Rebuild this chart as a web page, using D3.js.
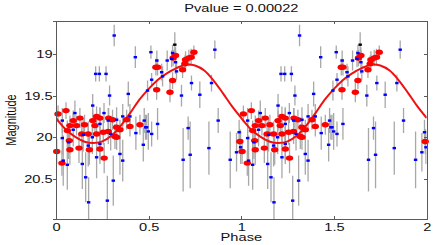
<!DOCTYPE html>
<html>
<head>
<meta charset="utf-8">
<script src="https://cdn.jsdelivr.net/npm/d3@7/dist/d3.min.js"></script>
<style>
  body { margin: 0; background: #fff; }
  text { font-family: "Liberation Sans", Arial, Helvetica, sans-serif; fill: #111; }
  .axis path, .axis line { stroke: #5a5a5a; shape-rendering: crispEdges; }
</style>
</head>
<body>
<svg id="chart" width="436" height="245"></svg>
<script>
// phase-folded light curve, one period (it is drawn twice, phase and phase+1)

// blue points: phase, magnitude, error
var blueP = [0.314, 0.428, 0.214, 0.234, 0.270, 0.289, 0.390, 0.198, 0.102, 0.259,
             0.512, 0.544, 0.570, 0.575, 0.516, 0.494, 0.600, 0.624, 0.629, 0.645,
             0.650, 0.731, 0.677, 0.776, 0.839, 0.857, 0.548, 0.483, 0.498, 0.516,
             0.713, 0.686, 0.724, 0.825, 0.875, 0.940, 0.974, 0.988, 0.996, 0.034,
             0.034, 0.039, 0.061, 0.093, 0.068, 0.142, 0.160, 0.176, 0.147, 0.196,
             0.174, 0.219, 0.237, 0.237, 0.277, 0.309, 0.295, 0.345, 0.360, 0.327,
             0.282, 0.399, 0.431, 0.489, 0.476, 0.360, 0.471];
var blueM = [18.78, 19.04, 19.24, 19.24, 19.24, 19.50, 19.48, 19.62, 19.71, 19.71,
             18.98, 19.08, 19.22, 19.27, 19.31, 19.44, 19.08, 19.06, 18.99, 19.10,
             19.21, 19.35, 19.50, 19.49, 19.35, 18.95, 19.84, 19.88, 19.93, 19.96,
             19.89, 20.27, 20.21, 20.13, 19.80, 20.27, 20.18, 19.94, 20.12, 19.80,
             20.01, 20.28, 20.33, 19.91, 20.06, 20.32, 20.48, 20.78, 19.97, 20.00,
             20.10, 20.24, 20.08, 19.84, 20.76, 20.52, 19.96, 20.20, 20.28, 19.79,
             19.80, 19.75, 19.95, 19.88, 19.80, 19.75, 20.09];
var blueE = [0.13, 0.13, 0.09, 0.09, 0.09, 0.12, 0.15, 0.14, 0.15, 0.12,
             0.08, 0.12, 0.10, 0.12, 0.08, 0.12, 0.12, 0.10, 0.10, 0.14,
             0.10, 0.09, 0.13, 0.16, 0.10, 0.11, 0.19, 0.15, 0.22, 0.15,
             0.14, 0.38, 0.40, 0.32, 0.15, 0.34, 0.23, 0.15, 0.20, 0.15,
             0.20, 0.30, 0.30, 0.20, 0.20, 0.30, 0.30, 0.30, 0.20, 0.20,
             0.25, 0.25, 0.20, 0.20, 0.30, 0.30, 0.20, 0.25, 0.25, 0.15,
             0.15, 0.15, 0.20, 0.15, 0.15, 0.15, 0.20];

// red points
var redP = [0.011, 0.004, 0.032, 0.054, 0.075, 0.111, 0.154, 0.198, 0.237, 0.284,
            0.305, 0.327, 0.345, 0.381, 0.399, 0.453, 0.255, 0.219, 0.174, 0.139,
            0.072, 0.075, 0.124, 0.180, 0.237, 0.260, 0.282, 0.318, 0.327, 0.210,
            0.219, 0.061, 0.093, 0.129, 0.992,
            0.539, 0.548, 0.543, 0.615, 0.629, 0.632, 0.645, 0.683, 0.695, 0.699,
            0.717, 0.729, 0.744];
var redM = [19.72, 20.17, 20.31, 19.68, 19.86, 19.86, 19.85, 19.80, 19.77, 19.77,
            19.79, 19.88, 19.91, 19.79, 19.87, 19.85, 19.94, 19.96, 19.96, 19.96,
            20.04, 20.15, 20.13, 20.15, 20.14, 20.25, 19.93, 19.99, 20.00, 19.86,
            19.75, 19.92, 19.80, 19.77, 20.05,
            19.16, 19.16, 19.43, 19.46, 19.32, 19.05, 19.02, 19.19, 19.12, 19.07,
            19.05, 19.04, 18.98];
var redE = [0.10, 0.15, 0.15, 0.10, 0.12, 0.12, 0.12, 0.12, 0.12, 0.12,
            0.12, 0.12, 0.12, 0.12, 0.12, 0.12, 0.15, 0.15, 0.15, 0.15,
            0.15, 0.18, 0.18, 0.18, 0.18, 0.18, 0.15, 0.15, 0.15, 0.12,
            0.12, 0.12, 0.12, 0.12, 0.15,
            0.10, 0.10, 0.12, 0.12, 0.10, 0.10, 0.10, 0.10, 0.10, 0.10,
            0.10, 0.10, 0.08];

// the single black point
var blackP = [0.641];
var blackM = [18.89];
var blackE = [0.15];

// fitted curve, every 0.05 in phase
var curveP = [0, 0.05, 0.10, 0.15, 0.20, 0.25, 0.30, 0.35, 0.40, 0.45, 0.50,
              0.55, 0.60, 0.65, 0.70, 0.75, 0.80, 0.85, 0.90, 0.95, 1.0];
var curveM = [19.77, 19.90, 19.99, 20.05, 20.07, 20.05, 19.98, 19.86, 19.71, 19.55, 19.42,
              19.31, 19.23, 19.17, 19.13, 19.14, 19.20, 19.32, 19.47, 19.63, 19.77];

var xTicks = [0, 0.5, 1, 1.5, 2];
var yTicks = [19, 19.5, 20, 20.5];
var titleText = "Pvalue = 0.00022";

// the original picture is stretched sideways, so text gets stretched too
var sx = 1.33;

var svg = d3.select("#chart"),
    mLeft = 56, mRight = 426.7, mTop = 20.5, mBottom = 219;

var x = d3.scaleLinear().domain([0, 2]).range([mLeft, mRight]);
var y = d3.scaleLinear().domain([18.6, 20.98]).range([mTop, mBottom]);

// fold each series into two periods
function twice(P, M, E) {
  var out = [];
  [0, 1].forEach(function(k) {
    P.forEach(function(p, i) { out.push({p: p + k, m: M[i], e: E[i]}); });
  });
  return out;
}
var blue = twice(blueP, blueM, blueE),
    red = twice(redP, redM, redE),
    black = twice(blackP, blackM, blackE);

svg.append("clipPath").attr("id", "clip")
  .append("rect").attr("x", mLeft).attr("y", mTop)
  .attr("width", mRight - mLeft).attr("height", mBottom - mTop);

var plot = svg.append("g").attr("clip-path", "url(#clip)");

// error bars
plot.selectAll(".err")
  .data(blue.concat(red, black))
  .enter().append("line")
    .attr("class", "err")
    .attr("x1", function(d) { return x(d.p); })
    .attr("x2", function(d) { return x(d.p); })
    .attr("y1", function(d) { return y(d.m - d.e); })
    .attr("y2", function(d) { return y(d.m + d.e); })
    .attr("stroke", "#a8a8a8")
    .attr("stroke-width", 1.3);

// fitted curve over two periods
var curve = [];
[0, 1].forEach(function(k) {
  curveP.forEach(function(p, i) {
    if (k == 1 && i == 0) return;
    curve.push({p: p + k, m: curveM[i]});
  });
});

plot.append("path")
  .datum(curve)
  .attr("fill", "none")
  .attr("stroke", "#f01010")
  .attr("stroke-width", 2)
  .attr("d", d3.line()
    .x(function(d) { return x(d.p); })
    .y(function(d) { return y(d.m); })
    .curve(d3.curveCatmullRom));

// markers
svg.selectAll(".red")
  .data(red)
  .enter().append("ellipse")
    .attr("class", "red")
    .attr("cx", function(d) { return x(d.p); })
    .attr("cy", function(d) { return y(d.m); })
    .attr("rx", 3.7)
    .attr("ry", 2.7)
    .attr("fill", "#ff0000");

svg.selectAll(".blue")
  .data(blue)
  .enter().append("rect")
    .attr("class", "blue")
    .attr("x", function(d) { return x(d.p) - 1.7; })
    .attr("y", function(d) { return y(d.m) - 1.2; })
    .attr("width", 3.4)
    .attr("height", 2.4)
    .attr("fill", "#0000ff");

svg.selectAll(".black")
  .data(black)
  .enter().append("rect")
    .attr("class", "black")
    .attr("x", function(d) { return x(d.p) - 1.7; })
    .attr("y", function(d) { return y(d.m) - 1.2; })
    .attr("width", 3.4)
    .attr("height", 2.4)
    .attr("fill", "#000");

// axes: box with ticks, labels only on left and bottom
var gx = svg.append("g").attr("class", "axis")
  .attr("transform", "translate(0," + mBottom + ")")
  .call(d3.axisBottom(x).tickValues(xTicks).tickSize(-3).tickPadding(4.3)
    .tickFormat(function(d) { return d; }));
gx.selectAll("text").attr("font-size", 11).attr("transform", "scale(" + sx + ",1)");

svg.append("g").attr("class", "axis")
  .attr("transform", "translate(0," + mTop + ")")
  .call(d3.axisTop(x).tickValues(xTicks).tickSize(-3).tickFormat(""));

var gy = svg.append("g").attr("class", "axis")
  .attr("transform", "translate(" + mLeft + ",0)")
  .call(d3.axisLeft(y).tickValues(yTicks).tickSize(3)
    .tickFormat(function(d) { return d; }));
gy.selectAll("text")
  .attr("font-size", 11)
  .attr("x", -3.4 / sx)
  .attr("transform", "scale(" + sx + ",1)");

svg.append("g").attr("class", "axis")
  .attr("transform", "translate(" + mRight + ",0)")
  .call(d3.axisRight(y).tickValues(yTicks).tickSize(-3).tickFormat(""));

svg.selectAll(".axis .domain").attr("stroke", "#5a5a5a");

// title and axis labels
svg.append("text")
  .attr("transform", "translate(" + (mLeft + mRight) / 2 + ",11.7) scale(" + sx + ",1)")
  .attr("text-anchor", "middle")
  .attr("font-size", 11)
  .text(titleText);

svg.append("text")
  .attr("transform", "translate(" + (mLeft + mRight) / 2 + ",241) scale(" + sx + ",1)")
  .attr("text-anchor", "middle")
  .attr("font-size", 11)
  .text("Phase");

svg.append("text")
  .attr("transform", "translate(15.5,120) scale(" + sx + ",1) rotate(-90)")
  .attr("text-anchor", "middle")
  .attr("font-size", 11)
  .text("Magnitude");
</script>
</body>
</html>
